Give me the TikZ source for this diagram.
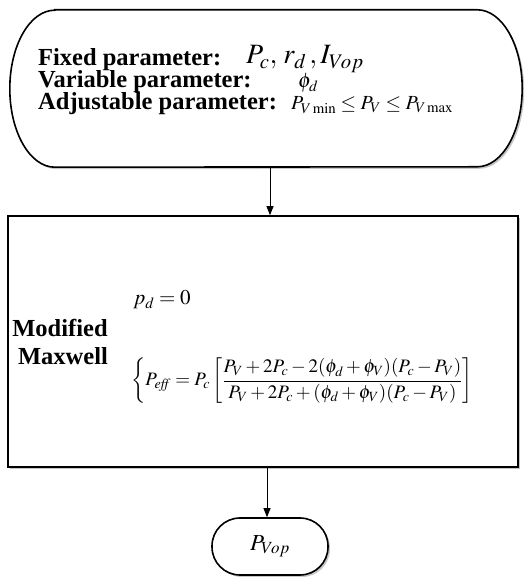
\documentclass[tikz,border=0pt]{standalone}
\usepackage{mathptmx}
\usepackage{fontspec}
\setmainfont{Liberation Serif}
\usetikzlibrary{arrows.meta,shadows}
\newcommand{\fsz}[1]{\fontsize{#1}{#1}\selectfont}

\begin{document}
\begin{tikzpicture}[x=1pt,y=1pt,
  outline/.style={line width=1.6pt,fill=white,
    drop shadow={shadow xshift=2pt,shadow yshift=-2pt,opacity=0.45,fill=gray}},
  arr/.style={line width=0.9pt,-{Triangle[length=9pt,width=7pt]}},
  lbl/.style={anchor=base west,font=\fsz{24.5}\bfseries,inner sep=0pt},
  mth/.style={anchor=base west,inner sep=0pt}]
  \useasboundingbox (0,0) rectangle (529,577);
  % input block
  \node[minimum width=512pt,minimum height=157pt,inner sep=0pt] (input) at (266,488.5) {};
  \draw[outline] ([xshift=45pt]input.north west) -- ([xshift=-45pt]input.north east)
    arc[start angle=90,end angle=-90,x radius=45pt,y radius=78.5pt]
    -- ([xshift=45pt]input.south west)
    arc[start angle=270,end angle=90,x radius=45pt,y radius=78.5pt] -- cycle;
  \node[lbl] (fixed) at (38,511) {Fixed parameter:};
  \node[lbl] (variable) at (38,489) {Variable parameter:};
  \node[lbl] (adjust) at (38,467) {Adjustable parameter:};
  \node[mth,font=\fsz{28}] (fixedval) at (246,513) {$P_c,\,r_d\,,I_{Vop}$};
  \node[mth,font=\fsz{21}] (varval) at (298,489) {$\phi_d$};
  \node[mth,font=\fsz{20}] (adjval) at (291,467) {$P_{V\min}\le P_V\le P_{V\max}$};
  % model block
  \node[outline,draw,minimum width=510pt,minimum height=251pt] (model) at (263,235.5) {};
  \node[lbl,anchor=base] (modified) at (60,240) {Modified};
  \node[lbl,anchor=base] (maxwell) at (63,212) {Maxwell};
  \node[mth,font=\fsz{21}] (pd) at (133,272) {$p_d=0$};
  \node[anchor=west,inner sep=0pt,font=\fsz{19}] (peff) at (131,196)
    {$\displaystyle\left\{P_{\mathit{eff}}=P_c\left[\frac{P_V+2P_c-2(\phi_d+\phi_V)(P_c-P_V)}{P_V+2P_c+(\phi_d+\phi_V)(P_c-P_V)}\right]\right.$};
  % output block
  \node[outline,draw,rounded corners=28pt,minimum width=116pt,minimum height=57pt,
    font=\fsz{23}] (output) at (270,30.5) {$P_{Vop}$};
  \draw[arr] ([xshift=4pt]input.south) -- ([xshift=4pt]input.south |- model.north);
  \draw[arr] ([xshift=4pt]model.south) -- ([xshift=4pt]model.south |- output.north);
\end{tikzpicture}
\end{document}
